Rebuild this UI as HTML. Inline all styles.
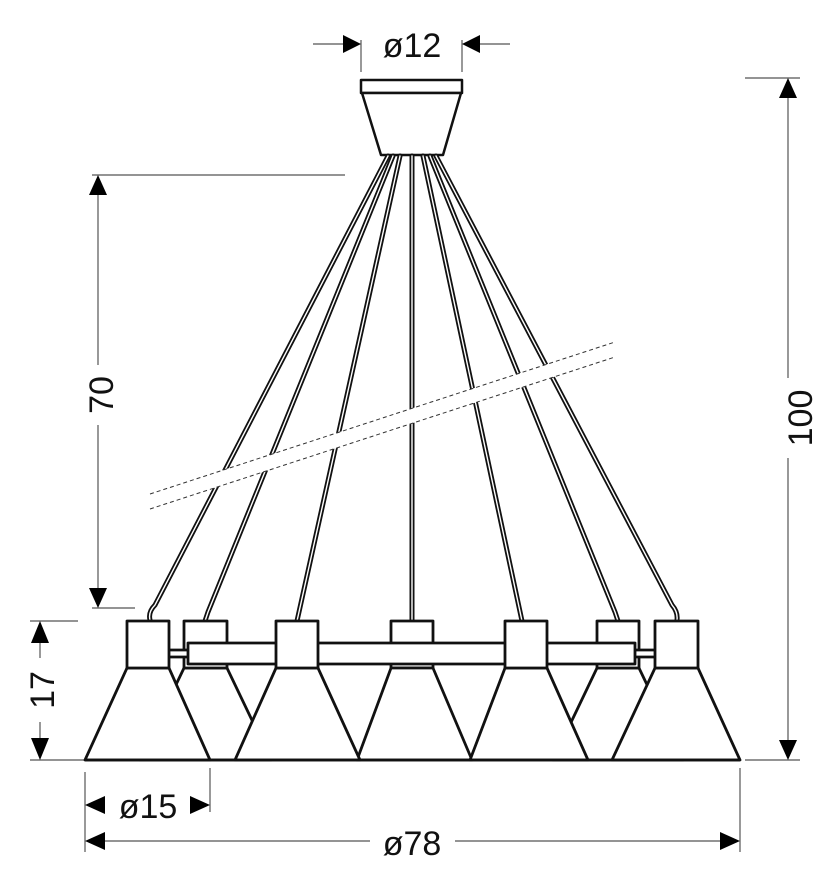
<!DOCTYPE html>
<html><head><style>body{margin:0;background:#fff}svg{display:block}</style></head><body>
<svg width="828" height="886" viewBox="0 0 828 886" xmlns="http://www.w3.org/2000/svg" font-family="Liberation Sans, sans-serif">
<g stroke="#555" stroke-width="1.2" fill="none">
<line x1="361" y1="40" x2="361" y2="72"/><line x1="462" y1="40" x2="462" y2="72"/>
<line x1="313" y1="44" x2="345" y2="44"/><line x1="478" y1="44" x2="510" y2="44"/>
<line x1="745" y1="78" x2="800" y2="78"/><line x1="745" y1="760" x2="800" y2="760"/>
<line x1="788" y1="95" x2="788" y2="378"/><line x1="788" y1="458" x2="788" y2="742"/>
<line x1="92" y1="175" x2="345" y2="175"/><line x1="92" y1="608" x2="135" y2="608"/>
<line x1="98" y1="192" x2="98" y2="365"/><line x1="98" y1="425" x2="98" y2="592"/>
<line x1="30" y1="621" x2="78" y2="621"/><line x1="30" y1="760" x2="85" y2="760"/>
<line x1="40" y1="640" x2="40" y2="658"/><line x1="40" y1="722" x2="40" y2="742"/>
<line x1="85" y1="772" x2="85" y2="852"/><line x1="210" y1="768" x2="210" y2="812"/><line x1="740" y1="768" x2="740" y2="852"/>
<line x1="100" y1="841" x2="370" y2="841"/><line x1="455" y1="841" x2="724" y2="841"/>
</g>
<g fill="#000">
<polygon points="343,35 361,44 343,53"/><polygon points="480,35 462,44 480,53"/>
<polygon points="788,78 779,98 797,98"/><polygon points="788,760 779,740 797,740"/>
<polygon points="98,175 89,195 107,195"/><polygon points="98,608 89,588 107,588"/>
<polygon points="40,621 31,643 49,643"/><polygon points="40,760 31,738 49,738"/>
<polygon points="85,805 105,796 105,814"/><polygon points="210,805 190,796 190,814"/>
<polygon points="85,841 105,832 105,850"/><polygon points="740,841 720,832 720,850"/>
</g>
<g font-size="34" fill="#111" text-anchor="middle">
<text x="412" y="57">ø12</text>
<text x="148" y="818">ø15</text>
<text x="412" y="855">ø78</text>
<text transform="translate(812,418) rotate(-90)">100</text>
<text transform="translate(113,395) rotate(-90)">70</text>
<text transform="translate(54,690) rotate(-90)">17</text>
</g>
<g stroke="#111" stroke-width="2.5" fill="#fff" stroke-linejoin="round">
<rect x="361" y="80" width="101" height="13"/>
<polygon points="362,93 461,93 443,155 381,155"/>
</g>
<g fill="none" stroke-linecap="round">
<g stroke="#111" stroke-width="5">
<path d="M388,156 L155,605 Q148,612 150,620"/>
<path d="M393,156 L208,612 L205,621"/>
<path d="M400,156 L297,621"/>
<path d="M412,156 L412,621"/>
<path d="M423,156 L522,621"/>
<path d="M430,156 L615,612 L618,621"/>
<path d="M436,156 L672,605 Q678,612 677,620"/>
</g>
<g stroke="#fff" stroke-width="1.4">
<path d="M388,156 L155,605 Q148,612 150,620"/>
<path d="M393,156 L208,612 L205,621"/>
<path d="M400,156 L297,621"/>
<path d="M412,156 L412,621"/>
<path d="M423,156 L522,621"/>
<path d="M430,156 L615,612 L618,621"/>
<path d="M436,156 L672,605 Q678,612 677,620"/>
</g>
</g>
<polygon points="150,494 615,342 615,357 150,509" fill="#fff"/>
<g stroke="#333" stroke-width="1" stroke-dasharray="4,3">
<line x1="150" y1="494" x2="615" y2="342"/><line x1="150" y1="509" x2="615" y2="357"/>
</g>
<g stroke="#111" stroke-width="2.8" fill="#fff" stroke-linejoin="round">
<polygon points="184,668 227,668 271,760 140,760"/>
<polygon points="597,668 639,668 683,760 553,760"/>
<rect x="184" y="621" width="43" height="47"/>
<rect x="597" y="621" width="42" height="47"/>
<rect x="391" y="621" width="42" height="47"/>
<rect x="168" y="650" width="22" height="7"/>
<rect x="633" y="650" width="24" height="7"/>
<rect x="188" y="643" width="447" height="21"/>
<polygon points="391,668 433,668 472,760 357,760"/>
<polygon points="127,668 169,668 210,760 85,760"/>
<polygon points="276,668 318,668 360,760 235,760"/>
<polygon points="505,668 547,668 588,760 470,760"/>
<polygon points="655,668 698,668 740,760 612,760"/>
<rect x="127" y="621" width="42" height="47"/>
<rect x="276" y="621" width="42" height="47"/>
<rect x="505" y="621" width="42" height="47"/>
<rect x="655" y="621" width="43" height="47"/>
<line x1="85" y1="760" x2="740" y2="760"/>
</g>
</svg>
</body></html>
